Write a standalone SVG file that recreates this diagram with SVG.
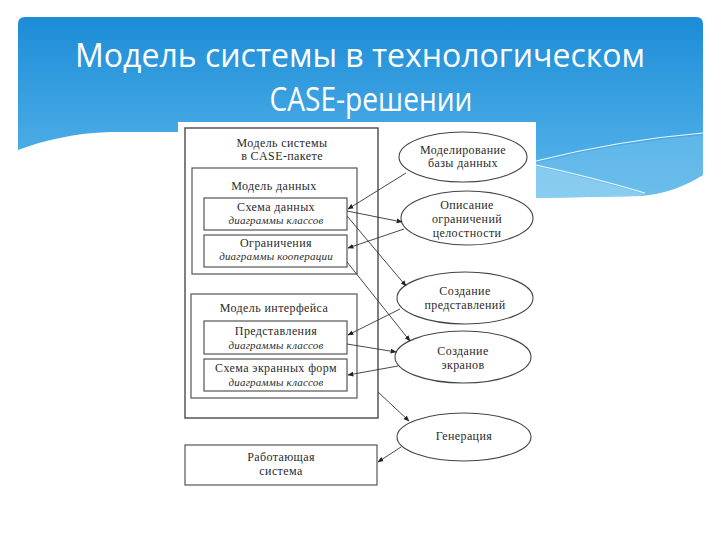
<svg xmlns="http://www.w3.org/2000/svg" width="720" height="540" viewBox="0 0 720 540">
<defs>
<linearGradient id="bg" x1="0" y1="0" x2="0" y2="1">
<stop offset="0" stop-color="#1c8cd7"/>
<stop offset="1" stop-color="#5cb8eb"/>
</linearGradient>
<marker id="ah" viewBox="0 0 10 10" refX="9" refY="5" markerWidth="6" markerHeight="6" orient="auto" markerUnits="userSpaceOnUse">
<path d="M0,1 L10,5 L0,9 Z" fill="#222"/>
</marker>
<style>
.t{font-family:"Liberation Serif","DejaVu Serif",serif;font-size:12px;letter-spacing:0.4px;fill:#2a2a2a;text-anchor:middle}
.i{font-style:italic;font-size:11px;letter-spacing:0.2px}
.box{fill:#fff;stroke:#555;stroke-width:1.2}
.ob{fill:#fff;stroke:#555;stroke-width:1.5}
.el{fill:#fff;stroke:#444;stroke-width:1.1}
.c{fill:none;stroke:#333;stroke-width:0.9;marker-end:url(#ah)}
.title{font-family:"Open Sans","DejaVu Sans",sans-serif;font-size:32px;fill:#fff;text-anchor:middle}
</style>
</defs>
<rect width="720" height="540" fill="#fff"/>
<g id="header">
<path d="M18,24 Q18,17 25,17 L696,17 Q703,17 703,24 L703,175 C685,186 665,194 640,196 L536,198 L300,170 L178,132 L110,132 C75,133 45,140 18,150 Z" fill="url(#bg)"/>
<path d="M536,163 Q620,142 703,135 L703,175 C685,186 665,194 640,196 L536,198 Z" fill="#7cc6ee" opacity="0.45"/>
<path d="M536,166 Q595,180 645,194 L640,196 L536,198 Z" fill="#a8dcf5" opacity="0.5"/>
<path d="M536,161 Q620,140 703,133" fill="none" stroke="#fff" stroke-width="1.2" opacity="0.9"/>
<path d="M536,165 Q595,178 645,193" fill="none" stroke="#fff" stroke-width="1.2" opacity="0.9"/>
<text class="title" x="360" y="67" textLength="570" lengthAdjust="spacingAndGlyphs">Модель системы в технологическом</text>
<text class="title" x="371" y="111" textLength="203" lengthAdjust="spacingAndGlyphs">CASE-решении</text>
</g>
<rect x="178" y="122" width="358" height="400" fill="#fff"/>
<g id="case-model">
<rect class="ob" x="185" y="128" width="193" height="290"/>
<text class="t" x="282" y="147">Модель системы</text>
<text class="t" x="282" y="160">в CASE-пакете</text>
</g>
<g id="data-model">
<rect class="box" x="192" y="168" width="165" height="106"/>
<text class="t" x="274" y="190">Модель данных</text>
</g>
<g id="data-schema">
<rect class="box" x="204" y="198" width="143" height="32"/>
<text class="t" x="276" y="211">Схема данных</text>
<text class="t i" x="276" y="224">диаграммы классов</text>
</g>
<g id="constraints">
<rect class="box" x="204" y="235" width="143" height="32"/>
<text class="t" x="276" y="247">Ограничения</text>
<text class="t i" x="276" y="260">диаграммы кооперации</text>
</g>
<g id="ui-model">
<rect class="box" x="191" y="294" width="166" height="104"/>
<text class="t" x="274" y="312">Модель интерфейса</text>
</g>
<g id="views">
<rect class="box" x="204" y="321" width="143" height="33"/>
<text class="t" x="276" y="335">Представления</text>
<text class="t i" x="276" y="349">диаграммы классов</text>
</g>
<g id="screen-forms">
<rect class="box" x="204" y="359" width="143" height="32"/>
<text class="t" x="276" y="372">Схема экранных форм</text>
<text class="t i" x="276" y="386">диаграммы классов</text>
</g>
<g id="working-system">
<rect class="box" x="185" y="445" width="192" height="40"/>
<text class="t" x="281" y="461">Работающая</text>
<text class="t" x="281" y="475">система</text>
</g>
<g id="db-modeling">
<ellipse class="el" cx="463" cy="157" rx="64" ry="25"/>
<text class="t" x="463" y="154">Моделирование</text>
<text class="t" x="463" y="167">базы данных</text>
</g>
<g id="integrity">
<ellipse class="el" cx="467" cy="218" rx="66" ry="27"/>
<text class="t" x="467" y="209">Описание</text>
<text class="t" x="467" y="223">ограничений</text>
<text class="t" x="467" y="237">целостности</text>
</g>
<g id="create-views">
<ellipse class="el" cx="465" cy="298" rx="68" ry="26"/>
<text class="t" x="465" y="295">Создание</text>
<text class="t" x="465" y="309">представлений</text>
</g>
<g id="create-screens">
<ellipse class="el" cx="463" cy="357" rx="68" ry="26"/>
<text class="t" x="463" y="355">Создание</text>
<text class="t" x="463" y="369">экранов</text>
</g>
<g id="generation">
<ellipse class="el" cx="464" cy="437" rx="67" ry="24"/>
<text class="t" x="464" y="440">Генерация</text>
</g>
<g id="connectors">
<path class="c" d="M406,173 L348,209"/>
<path class="c" d="M347,211 L402,222"/>
<path class="c" d="M404,229 L348,248"/>
<path class="c" d="M347,216 L406,286"/>
<path class="c" d="M347,262 L410,341"/>
<path class="c" d="M400,309 L348,335"/>
<path class="c" d="M347,344 L396,352"/>
<path class="c" d="M398,366 L348,375"/>
<path class="c" d="M378,392 L409,421"/>
<path class="c" d="M401,447 L378,462"/>
</g>
</svg>
